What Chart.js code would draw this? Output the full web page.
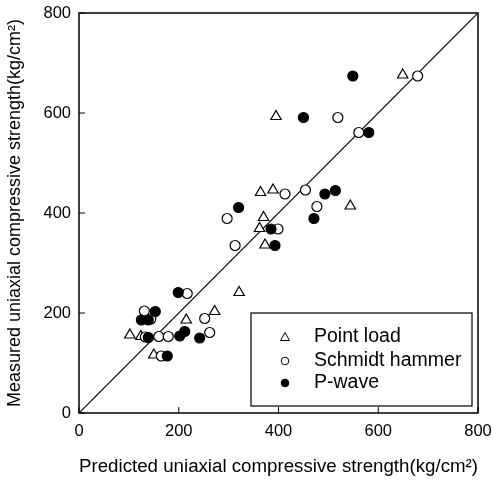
<!DOCTYPE html>
<html>
<head>
<meta charset="utf-8">
<script src="https://cdn.jsdelivr.net/npm/chart.js@4.4.1/dist/chart.umd.min.js"></script>
<style>
    html, body { margin: 0; padding: 0; background: #fff; }
    #wrap { width: 493px; height: 481px; position: relative; }
</style>
</head>
<body>
<div id="wrap"><canvas id="strengthChart" width="493" height="481"></canvas></div>
<script>
// Values: [predicted, measured] in kg/cm2
const pointLoad = [
    [102, 156], [124, 153], [150, 116], [215, 186], [272, 203], [321, 241],
    [362, 369], [370, 391], [373, 336], [364, 441], [389, 446], [395, 593],
    [544, 414], [649, 676]
];
const schmidtHammer = [
    [131, 204], [144, 188], [133, 152], [160, 153], [179, 153], [165, 114],
    [217, 239], [252, 189], [262, 161], [297, 389], [313, 335], [399, 368],
    [413, 438], [454, 446], [477, 413], [519, 591], [561, 561], [679, 674]
];
const pWave = [
    [153, 203], [125, 186], [139, 186], [139, 151], [202, 154], [212, 163],
    [242, 150], [177, 114], [199, 241], [320, 411], [385, 368], [393, 335],
    [471, 389], [493, 438], [514, 445], [450, 591], [549, 674], [581, 561]
];
const equalityLine = [[0, 0], [800, 800]];
const axisTicks = [0, 200, 400, 600, 800];
const seriesNames = ['Point load', 'Schmidt hammer', 'P-wave'];

const FONT = '"Liberation Sans", Arial, sans-serif';

function toXY(arr) {
    return arr.map(p => ({ x: p[0], y: p[1] }));
}

// Frame box and inward tick marks
const framePlugin = {
    id: 'frame',
    afterDraw(chart) {
        const ctx = chart.ctx;
        const a = chart.chartArea;
        const xs = chart.scales.x;
        const ys = chart.scales.y;
        ctx.save();
        ctx.strokeStyle = '#000';
        ctx.lineWidth = 1.5;
        ctx.strokeRect(a.left, a.top, a.right - a.left, a.bottom - a.top);
        ctx.lineWidth = 1;
        ctx.beginPath();
        axisTicks.forEach(v => {
            const px = xs.getPixelForValue(v);
            ctx.moveTo(px, a.bottom);
            ctx.lineTo(px, a.bottom - 6);
            const py = ys.getPixelForValue(v);
            ctx.moveTo(a.left, py);
            ctx.lineTo(a.left + 6, py);
        });
        ctx.stroke();
        ctx.restore();
    }
};

// Boxed legend in the lower right of the plot
const legendBoxPlugin = {
    id: 'legendBox',
    afterDraw(chart) {
        const ctx = chart.ctx;
        const a = chart.chartArea;
        const w = 221, h = 93;
        const left = a.right - 227, top = a.bottom - 100;
        ctx.save();
        ctx.fillStyle = '#fff';
        ctx.fillRect(left, top, w, h);
        ctx.strokeStyle = '#000';
        ctx.lineWidth = 1.2;
        ctx.strokeRect(left, top, w, h);
        const rows = [24, 48, 70];
        ctx.font = '19.5px ' + FONT;
        ctx.textBaseline = 'middle';
        ctx.textAlign = 'left';
        rows.forEach((dy, i) => {
            const mx = left + 34, my = top + dy;
            ctx.beginPath();
            if (i === 0) {
                ctx.moveTo(mx, my - 4.5);
                ctx.lineTo(mx + 4.5, my + 3.5);
                ctx.lineTo(mx - 4.5, my + 3.5);
                ctx.closePath();
            } else {
                ctx.arc(mx, my, 3.8, 0, Math.PI * 2);
            }
            ctx.fillStyle = i === 2 ? '#000' : '#fff';
            ctx.fill();
            ctx.lineWidth = 1;
            ctx.stroke();
            ctx.fillStyle = '#000';
            ctx.fillText(seriesNames[i], left + 63, my);
        });
        ctx.restore();
    }
};

const ctx = document.getElementById('strengthChart').getContext('2d');
const strengthChart = new Chart(ctx, {
    type: 'scatter',
    data: {
        datasets: [
            {
                label: 'Line',
                type: 'line',
                data: toXY(equalityLine),
                borderColor: '#000',
                borderWidth: 1.2,
                pointRadius: 0,
                fill: false,
                order: 10
            },
            {
                label: seriesNames[0],
                data: toXY(pointLoad),
                pointStyle: 'triangle',
                pointRadius: 6,
                backgroundColor: '#fff',
                borderColor: '#000',
                borderWidth: 1.2,
                order: 3
            },
            {
                label: seriesNames[1],
                data: toXY(schmidtHammer),
                pointStyle: 'circle',
                pointRadius: 5,
                backgroundColor: '#fff',
                borderColor: '#000',
                borderWidth: 1.2,
                order: 2
            },
            {
                label: seriesNames[2],
                data: toXY(pWave),
                pointStyle: 'circle',
                pointRadius: 5,
                backgroundColor: '#000',
                borderColor: '#000',
                borderWidth: 1.2,
                order: 1
            }
        ]
    },
    options: {
        responsive: false,
        animation: false,
        layout: { padding: { left: 0, top: 13, right: 15, bottom: 0 } },
        plugins: {
            legend: { display: false },
            tooltip: { enabled: false }
        },
        scales: {
            x: {
                type: 'linear',
                min: 0,
                max: 800,
                afterFit(scale) {
                    scale.height = 68;
                    scale.paddingLeft = 0;
                    scale.paddingRight = 0;
                },
                afterBuildTicks(scale) { scale.ticks = axisTicks.map(v => ({ value: v })); },
                grid: { display: false, drawTicks: false },
                border: { display: false },
                ticks: { color: '#000', padding: 9, font: { family: FONT, size: 16.5 } },
                title: {
                    display: true,
                    text: 'Predicted uniaxial compressive strength(kg/cm\u00B2)',
                    color: '#000',
                    font: { family: FONT, size: 18.8 },
                    padding: { top: 4, bottom: 3 }
                }
            },
            y: {
                type: 'linear',
                min: 0,
                max: 800,
                afterFit(scale) {
                    scale.width = 79;
                    scale.paddingTop = 0;
                    scale.paddingBottom = 0;
                },
                afterBuildTicks(scale) { scale.ticks = axisTicks.map(v => ({ value: v })); },
                grid: { display: false, drawTicks: false },
                border: { display: false },
                ticks: { color: '#000', padding: 8, font: { family: FONT, size: 16.5 } },
                title: {
                    display: true,
                    text: 'Measured uniaxial compressive strength(kg/cm\u00B2)',
                    color: '#000',
                    font: { family: FONT, size: 18 },
                    padding: { top: 4, bottom: 4 }
                }
            }
        }
    },
    plugins: [framePlugin, legendBoxPlugin]
});
</script>
</body>
</html>
